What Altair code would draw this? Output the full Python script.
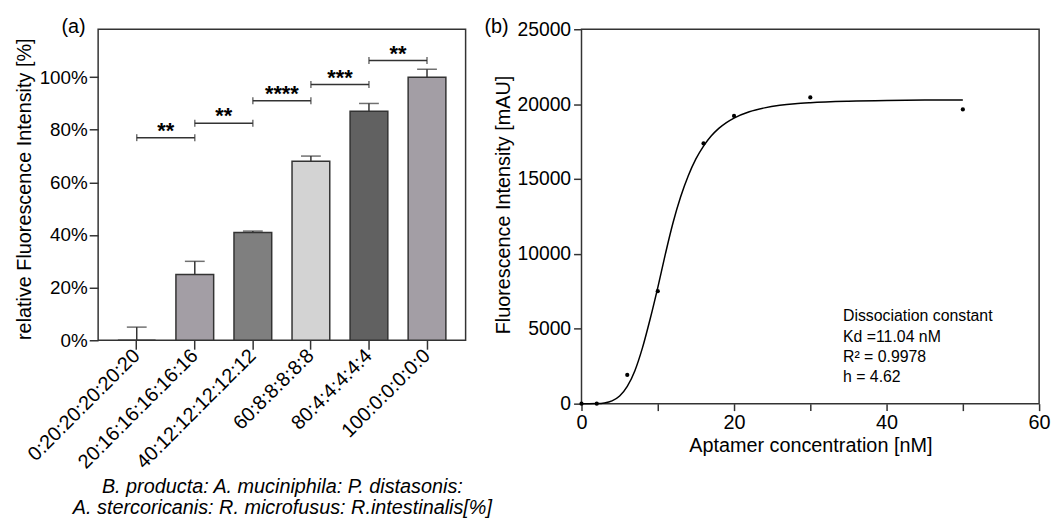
import altair as alt
import pandas as pd

FONT = "Liberation Sans, Arial, Helvetica, sans-serif"
INK = "#333333"

# ---------------- Panel (a) data ----------------
categories = ["0:20:20:20:20:20", "20:16:16:16:16:16", "40:12:12:12:12:12",
              "60:8:8:8:8:8", "80:4:4:4:4:4", "100:0:0:0:0:0"]
means = [0, 25, 41, 68, 87, 100]
err_upper = [5, 30, 41.5, 70, 90, 103]
bar_colors = ["#a39ea5", "#a39ea5", "#7f7f7f", "#d3d3d3", "#616161", "#a39ea5"]
y_ticks_a = [0, 20, 40, 60, 80, 100]

sig_start = categories[0:5]
sig_end = categories[1:6]
sig_level = [77, 82.5, 91, 97.2, 106.3]
sig_label = ["**", "**", "****", "***", "**"]

x_title_a = ["B. producta: A. muciniphila: P. distasonis:",
             "A. stercoricanis: R. microfusus: R.intestinalis[%]"]

# ---------------- Panel (b) data ----------------
conc = [0, 2, 6, 10, 16, 20, 30, 50]
intensity = [0, 0, 1920, 7510, 17380, 19210, 20450, 19650]

fit_x = [0, 1, 2, 3, 4, 5, 6, 7, 8, 9, 10, 11, 12, 13, 14, 15, 16, 17, 18, 19,
         20, 22, 24, 26, 28, 30, 35, 40, 45, 50]
fit_y = [0, 0, 8, 49, 185, 510, 1150, 2200, 3740, 5650, 7750, 10000, 12080,
         13810, 15220, 16340, 17200, 17870, 18380, 18770, 19070, 19490, 19750,
         19920, 20030, 20100, 20200, 20250, 20270, 20280]

x_ticks_b = [0, 5, 10, 15, 20, 25, 30, 35, 40, 45, 50, 55, 60]
y_ticks_b = [0, 2500, 5000, 7500, 10000, 12500, 15000, 17500, 20000, 22500, 25000]

note_lines = ["Dissociation constant", "Kd =11.04 nM", "R\u00b2 = 0.9978", "h = 4.62"]

# ---------------- Panel (a) ----------------
dfa = pd.DataFrame({"cat": categories, "mean": means, "upper": err_upper})
dfs = pd.DataFrame({"start": sig_start, "end": sig_end, "level": sig_level, "label": sig_label})

W_A, H_A = 371, 314
STEP_A = W_A / (6 - 0.35 + 2 * 0.34)

x_a = alt.X("cat:N",
            scale=alt.Scale(domain=categories, paddingInner=0.35, paddingOuter=0.34),
            axis=alt.Axis(title=x_title_a, labelAngle=-45, labelAlign="right",
                          labelBaseline="middle", labelFontSize=20, labelPadding=3,
                          tickSize=9, titleFontSize=20, titleFontStyle="italic",
                          titleLineHeight=21, titlePadding=5, domain=False))
y_a = alt.Y("mean:Q",
            scale=alt.Scale(domain=[0, 118.2], nice=False),
            axis=alt.Axis(title="relative Fluorescence Intensity [%]", values=y_ticks_a,
                          labelExpr="datum.value + '%'", labelFontSize=19,
                          labelPadding=2, tickSize=9, titleFontSize=20,
                          titlePadding=5, titleY=161, grid=False, domain=False))

bars = alt.Chart(dfa).mark_bar(stroke=INK, strokeWidth=1.5).encode(
    x=x_a, y=y_a,
    color=alt.Color("cat:N", scale=alt.Scale(domain=categories, range=bar_colors), legend=None),
)
err_rule = alt.Chart(dfa).mark_rule(color=INK, strokeWidth=1.5).encode(
    x="cat:N", y="mean:Q", y2="upper:Q")
err_cap = alt.Chart(dfa).mark_tick(color=INK, thickness=1.5, size=20, orient="horizontal").encode(
    x="cat:N", y="upper:Q")

sig_rule = alt.Chart(dfs).mark_rule(color=INK, strokeWidth=1.5).encode(
    x="start:N", x2="end:N", y="level:Q")
sig_end_l = alt.Chart(dfs).mark_tick(color=INK, thickness=1.5, size=7, orient="vertical").encode(
    x="start:N", y="level:Q")
sig_end_r = alt.Chart(dfs).mark_tick(color=INK, thickness=1.5, size=7, orient="vertical").encode(
    x="end:N", y="level:Q")
sig_text = alt.Chart(dfs).mark_text(fontSize=22, fontWeight="bold", color="black",
                                    baseline="alphabetic", dx=STEP_A / 2, dy=0,
                                    font=FONT).encode(
    x="start:N", y="level:Q", text="label:N")

label_a = alt.Chart(pd.DataFrame({"t": ["(a)"]})).mark_text(
    align="left", baseline="alphabetic", fontSize=20, font=FONT, color="black").encode(
    text="t:N", x=alt.value(-37), y=alt.value(4))

panel_a = alt.layer(bars, err_rule, err_cap, sig_rule, sig_end_l, sig_end_r, sig_text,
                    label_a).properties(width=W_A, height=H_A)

# ---------------- Panel (b) ----------------
dfb = pd.DataFrame({"conc": conc, "intensity": intensity})
dff = pd.DataFrame({"conc": fit_x, "intensity": fit_y})

W_B, H_B = 462, 378

x_b = alt.X("conc:Q", scale=alt.Scale(domain=[0, 60], nice=False),
            axis=alt.Axis(title="Aptamer concentration [nM]", values=x_ticks_b,
                          labelExpr="datum.value % 20 == 0 ? datum.label : ''",
                          labelOverlap=False, labelFlush=False, labelBound=False,
                          labelFontSize=20, labelPadding=2, tickSize=7,
                          titleFontSize=20, titlePadding=3, grid=False, domain=False))
y_b = alt.Y("intensity:Q", scale=alt.Scale(domain=[0, 25000], nice=False),
            axis=alt.Axis(title="Fluorescence Intensity [mAU]", values=y_ticks_b,
                          labelExpr="datum.value % 5000 == 0 ? datum.label : ''",
                          format="d", labelOverlap=False, labelFlush=False,
                          labelFontSize=19.5, labelPadding=3, tickSize=8,
                          titleFontSize=20, titlePadding=3, titleY=177,
                          grid=False, domain=False))

fit_line = alt.Chart(dff).mark_line(color="black", strokeWidth=1.5, interpolate="monotone").encode(
    x=x_b, y=y_b)
pts = alt.Chart(dfb).mark_circle(color="black", size=18, opacity=1).encode(
    x="conc:Q", y="intensity:Q")
note = alt.Chart(pd.DataFrame({"t": [0]})).mark_text(
    text=note_lines, align="left", baseline="alphabetic", fontSize=16,
    lineHeight=20.3, font=FONT, color="black").encode(
    x=alt.value(264), y=alt.value(295))
label_b = alt.Chart(pd.DataFrame({"t": ["(b)"]})).mark_text(
    align="left", baseline="alphabetic", fontSize=20, font=FONT, color="black").encode(
    text="t:N", x=alt.value(-98), y=alt.value(4))

panel_b = alt.layer(fit_line, pts, note, label_b).properties(width=W_B, height=H_B)

chart = alt.hconcat(panel_a, panel_b, spacing=117, bounds="flush").properties(
    padding={"left": 5, "top": 6, "right": 0, "bottom": 0},
    background="white",
).configure_view(
    stroke=INK, strokeWidth=1.5
).configure_axis(
    labelFont=FONT, titleFont=FONT, labelColor="black", titleColor="black",
    tickColor=INK, tickWidth=1.5, titleFontWeight="normal"
).configure_text(font=FONT)

chart.save("out.html", embed_options={"renderer": "svg", "actions": False})
